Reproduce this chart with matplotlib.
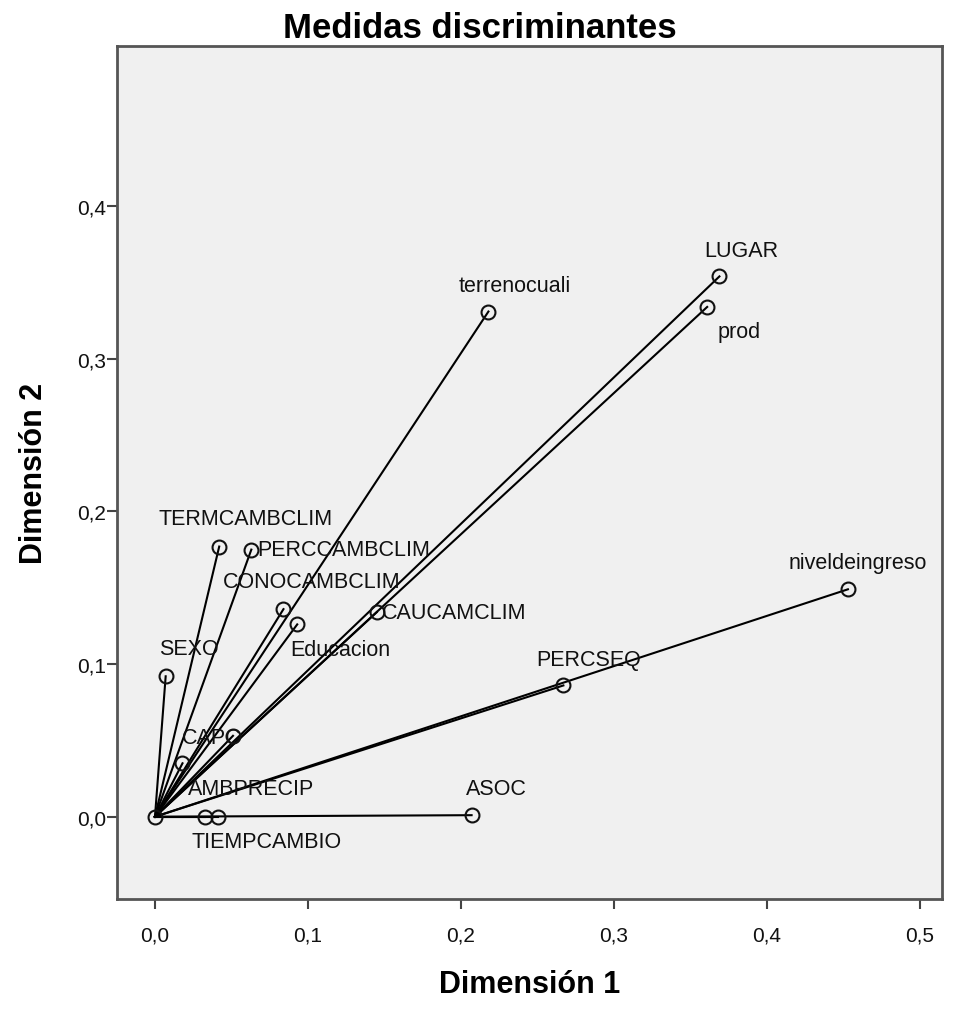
import matplotlib
matplotlib.use("Agg")
import matplotlib.pyplot as plt
from matplotlib.ticker import FuncFormatter

plt.rcParams['font.family'] = ['Liberation Sans', 'DejaVu Sans']

# Medidas discriminantes (dim 1, dim 2)
variables = ["LUGAR", "prod", "terrenocuali", "niveldeingreso", "PERCSEQ", "ASOC",
             "TERMCAMBCLIM", "PERCCAMBCLIM", "CONOCAMBCLIM", "Educacion", "CAUCAMCLIM",
             "SEXO", "CAPC", "", "AMBPRECIP", "TIEMPCAMBIO", ""]
dim1 = [0.369, 0.361, 0.218, 0.453, 0.267, 0.207,
        0.042, 0.063, 0.084, 0.093, 0.145,
        0.007, 0.051, 0.018, 0.033, 0.041, 0.0]
dim2 = [0.354, 0.334, 0.331, 0.149, 0.086, 0.001,
        0.177, 0.175, 0.136, 0.126, 0.134,
        0.092, 0.053, 0.035, 0.0, 0.0, 0.0]

# label offsets in points (dx, dy) and alignment
label_pos = [(16, 19, 'center'), (23, -18, 'center'), (19, 19, 'center'), (7, 19, 'center'),
             (18, 19, 'center'), (18, 19, 'center'),
             (19, 20, 'center'), (4, 0, 'left'), (20, 20, 'center'), (31, -18, 'center'),
             (4, 0, 'left'), (17, 20, 'center'), (6, -1, 'right'), (0, 0, 'center'),
             (33, 20, 'center'), (35, -18, 'center'), (0, 0, 'center')]

fig = plt.figure(figsize=(9.64, 10.12), dpi=100)
ax = fig.add_axes([0.1214, 0.111, 0.8556, 0.8426])
ax.set_facecolor('#f0f0f0')

for x, y in zip(dim1, dim2):
    ax.plot([0, x], [0, y], color='black', lw=1.5, zorder=2)
ax.plot(dim1, dim2, 'o', ms=10, mfc='none', mec='#111111', mew=1.5, zorder=3)

for name, x, y, (dx, dy, ha) in zip(variables, dim1, dim2, label_pos):
    if name:
        ax.annotate(name, (x, y), xytext=(dx, dy), textcoords='offset points',
                    ha=ha, va='center', fontsize=15.5, color='#111111', zorder=4)

ax.set_xlim(-0.0248, 0.5144)
ax.set_ylim(-0.0537, 0.505)
ax.set_xticks([0.0, 0.1, 0.2, 0.3, 0.4, 0.5])
ax.set_yticks([0.0, 0.1, 0.2, 0.3, 0.4])
comma = FuncFormatter(lambda v, p: ("%.1f" % v).replace('.', ','))
ax.xaxis.set_major_formatter(comma)
ax.yaxis.set_major_formatter(comma)
ax.tick_params(direction='out', length=7, width=1.5, color='#444444',
               labelsize=15, labelcolor='#111111')
ax.tick_params(axis='x', pad=12)
ax.tick_params(axis='y', pad=1)

for s in ax.spines.values():
    s.set_color('#555555')
    s.set_linewidth(2)

fig.text(0.498, 0.972, "Medidas discriminantes", fontsize=25, fontweight='bold',
         ha='center', va='center')
ax.set_xlabel("Dimensión 1", fontsize=22, fontweight='bold', labelpad=18)
ax.set_ylabel("Dimensión 2", fontsize=22, fontweight='bold', labelpad=20)

fig.savefig("out.png", dpi=100)
